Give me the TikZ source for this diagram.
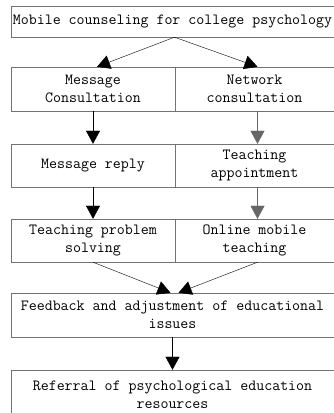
\documentclass[tikz,border=0pt]{standalone}
\usetikzlibrary{arrows.meta}
\begin{document}
\begin{tikzpicture}[x=1pt,y=1pt,>={Triangle[length=13pt,width=14pt]},
  box/.style={draw=black!55,align=center,inner sep=0pt,
    font=\ttfamily\fontsize{15.5}{18}\selectfont},
  wide/.style={box,minimum width=323pt},
  lhalf/.style={box,minimum width=164pt,minimum height=43pt},
  rhalf/.style={box,minimum width=159pt,minimum height=43pt}]
\useasboundingbox (0,0) rectangle (334,413);
\node[wide,minimum height=31pt] (head) at (172.5,391.5) {Mobile counseling for college psychology};
\node[lhalf,minimum height=44pt] (msg) at (93,324) {Message\\Consultation};
\node[rhalf,minimum height=44pt] (net) at (254.5,324) {Network\\consultation};
\node[lhalf] (reply) at (93,247.5) {Message reply};
\node[rhalf] (appt) at (254.5,247.5) {Teaching\\appointment};
\node[lhalf] (solve) at (93,172.5) {Teaching problem\\solving};
\node[rhalf] (online) at (254.5,172.5) {Online mobile\\teaching};
\node[wide,minimum height=44pt] (feed) at (172.5,98) {Feedback and adjustment of educational\\issues};
\node[wide,minimum height=50pt] (refer) at (172.5,18) {Referral of psychological education\\resources};
\draw[->] ([xshift=2pt]head.south)--([xshift=4pt]msg.north);
\draw[->] ([xshift=2pt]head.south)--([xshift=3pt]net.north);
\draw[->] (msg.south)--(reply.north);
\draw[->,black!60] ([xshift=3pt]net.south)--([xshift=3pt]appt.north);
\draw[->] (reply.south)--(solve.north);
\draw[->,black!60] ([xshift=3pt]appt.south)--([xshift=3pt]online.north);
\draw[->] (solve.south)--([xshift=-2pt]feed.north);
\draw[->] ([xshift=3pt]online.south)--([xshift=6pt]feed.north);
\draw[->] (feed.south)--(refer.north);
\end{tikzpicture}
\end{document}
